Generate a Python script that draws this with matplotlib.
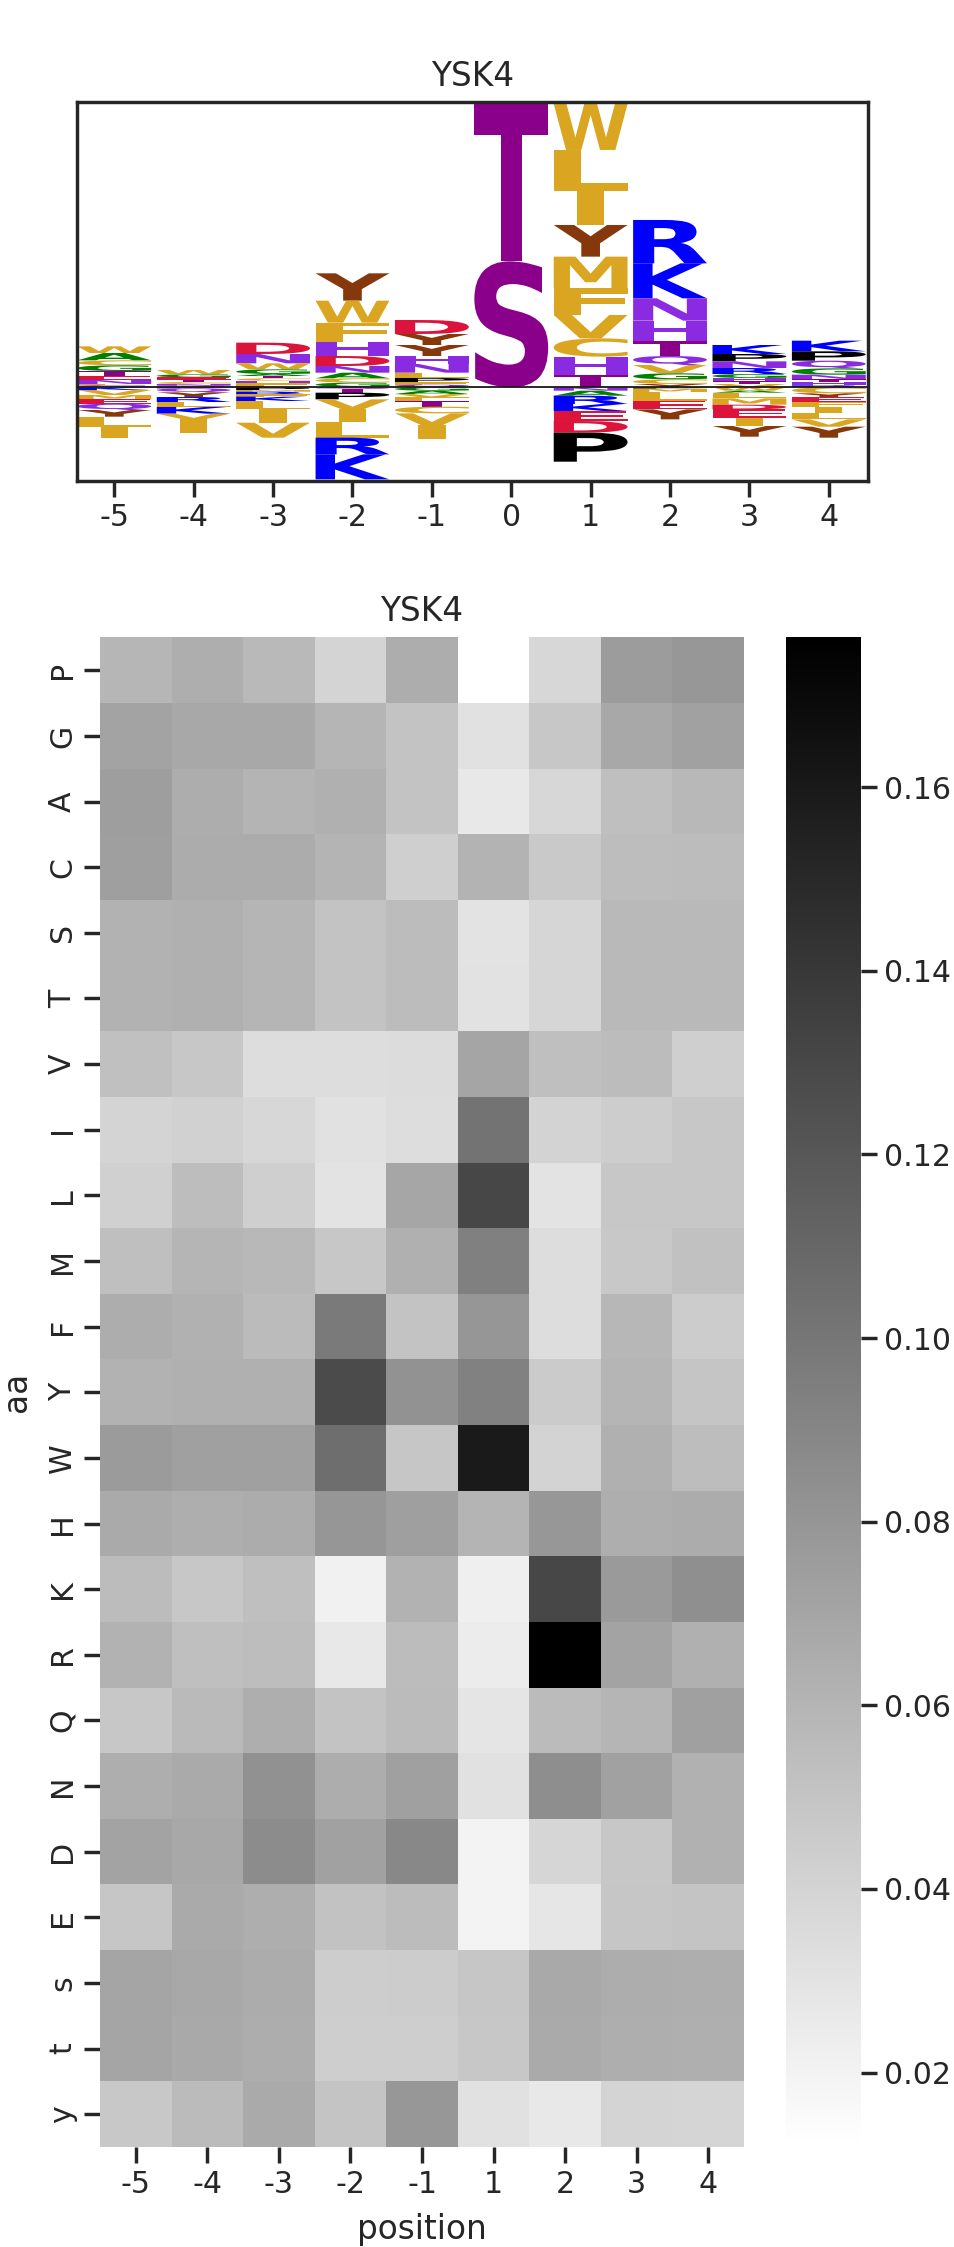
import numpy as np
import pandas as pd
import seaborn as sns
import matplotlib
matplotlib.use('Agg')
import matplotlib.pyplot as plt
from matplotlib.font_manager import FontProperties
from matplotlib.patches import PathPatch
from matplotlib.textpath import TextPath
from matplotlib.transforms import Affine2D

# logo stacks, top to bottom, negative heights sit below the baseline
logo_positions = [-5, -4, -3, -2, -1, 0, 1, 2, 3, 4]
letters_m5 = "WACGTENFSKVMEQYLI"
heights_m5 = [.020, .022, .015, .017, .015, .012, .012, .004, .006, -.008, -.015, -.013, -.013, -.019, -.020, -.030, -.033]
letters_m4 = "WGETCNSPQYRLKVI"
heights_m4 = [.013, .009, .008, .006, .006, .005, .005, -.003, -.012, -.014, -.015, -.015, -.020, -.017, -.040]
letters_m3 = "DNWGATCHFEPMRFKLIV"
heights_m3 = [.034, .028, .018, .014, .006, .007, .007, .008, .008, .004, -.008, -.005, -.008, -.007, -.013, -.025, -.040, -.045]
letters_m2 = "YWFHDNACGESTPVILRK"
heights_m2 = [.082, .066, .057, .043, .030, .020, .017, .013, .012, .002, -.004, -.012, -.020, -.030, -.037, -.048, -.050, -.075]
letters_m1 = "DYYHNLPFQGAVFTCVI"
heights_m1 = [.042, .033, .033, .024, .026, .016, .012, .008, .008, -.010, -.010, -.010, -.010, -.018, -.020, -.035, -.043]
letters_0 = "TS"
heights_0 = [.472, .378]
letters_p1 = "WLIYMFVCHTNARKEDP"
heights_p1 = [.138, .123, .102, .095, .095, .080, .070, .055, .055, .037, -.010, -.015, -.025, -.021, -.030, -.035, -.087]
letters_p2 = "RKNHTQVGCYPMLEY"
heights_p2 = [.130, .105, .067, .061, .045, .027, .025, .018, .014, .010, -.004, -.010, -.026, -.026, -.030]
letters_p3 = "KPNRGHTVWALMDEIY"
heights_p3 = [.027, .022, .020, .018, .012, .010, .008, .010, -.010, -.006, -.017, -.019, -.014, -.026, -.024, -.032]
letters_p4 = "KPQGNTHRCYEFILVY"
heights_p4 = [.032, .028, .023, .019, .013, .010, .009, .006, -.018, -.011, -.015, -.014, -.020, -.018, -.022, -.033]

letter_colors = {
    'S': '#8b008b', 'T': '#8b008b',
    'W': '#daa520', 'L': '#daa520', 'I': '#daa520', 'M': '#daa520',
    'F': '#daa520', 'V': '#daa520', 'C': '#daa520',
    'A': '#008000', 'G': '#008000',
    'Y': '#85380c', 'P': '#000000',
    'R': '#0000ff', 'K': '#0000ff',
    'H': '#8a2be2', 'N': '#8a2be2', 'Q': '#8a2be2',
    'D': '#dc143c', 'E': '#dc143c',
}

# heatmap values
aa_labels = list("PGACSTVILMFYWHKRQNDEsty")
pos_labels = [-5, -4, -3, -2, -1, 1, 2, 3, 4]
row_P = [.0589, .0641, .0570, .0396, .0647, .0119, .0376, .0757, .0789]
row_G = [.0712, .0679, .0679, .0596, .0505, .0312, .0479, .0679, .0725]
row_A = [.0744, .0647, .0602, .0628, .0505, .0267, .0376, .0531, .0576]
row_C = [.0737, .0654, .0654, .0602, .0428, .0608, .0467, .0544, .0550]
row_S = [.0615, .0628, .0596, .0505, .0550, .0305, .0383, .0570, .0570]
row_T = [.0617, .0630, .0598, .0507, .0552, .0307, .0385, .0572, .0572]
row_V = [.0525, .0479, .0338, .0338, .0350, .0699, .0531, .0550, .0428]
row_I = [.0396, .0415, .0376, .0318, .0338, .1021, .0402, .0441, .0479]
row_L = [.0421, .0544, .0428, .0299, .0692, .1305, .0299, .0479, .0479]
row_M = [.0531, .0596, .0576, .0479, .0628, .0937, .0338, .0473, .0518]
row_F = [.0647, .0621, .0557, .0976, .0505, .0796, .0338, .0583, .0447]
row_Y = [.0615, .0628, .0628, .1279, .0821, .0931, .0454, .0596, .0492]
row_W = [.0763, .0731, .0731, .1053, .0486, .1595, .0402, .0628, .0544]
row_H = [.0667, .0641, .0654, .0796, .0737, .0602, .0789, .0641, .0654]
row_K = [.0550, .0479, .0531, .0209, .0615, .0228, .1305, .0770, .0841]
row_R = [.0615, .0531, .0544, .0273, .0550, .0247, .1763, .0712, .0628]
row_Q = [.0479, .0563, .0641, .0505, .0557, .0286, .0557, .0596, .0731]
row_N = [.0641, .0667, .0828, .0647, .0731, .0312, .0847, .0725, .0621]
row_D = [.0712, .0679, .0860, .0725, .0886, .0202, .0383, .0479, .0621]
row_E = [.0486, .0667, .0641, .0512, .0550, .0202, .0280, .0486, .0499]
row_ps = [.0699, .0679, .0654, .0441, .0447, .0486, .0673, .0647, .0641]
row_pt = [.0697, .0677, .0652, .0434, .0440, .0480, .0670, .0645, .0638]
row_py = [.0473, .0557, .0667, .0499, .0789, .0312, .0267, .0396, .0389]

sns.set_theme(context='talk', style='ticks')
plt.rcParams['axes.unicode_minus'] = False

DPI = 131
W, H = 954, 2247


def px_axes(fig, x0, y0, x1, y1):
    return fig.add_axes([x0 / W, 1 - y1 / H, (x1 - x0) / W, (y1 - y0) / H])


def draw_letter(ax, c, x, y, w, h, prop):
    tp = TextPath((0, 0), c, size=1, prop=prop)
    bb = tp.get_extents()
    if c == 'I':
        w = w * 0.37  # keep the I narrow, it is not stretched to full width
    tr = (Affine2D().translate(-bb.x0, -bb.y0)
          .scale(w / bb.width, h / bb.height)
          .translate(x - w / 2, y))
    ax.add_patch(PathPatch(tp.transformed(tr), fc=letter_colors[c], ec='none', lw=0))


def draw_stack(ax, pos, letters, heights, prop, width=0.93):
    heights = np.array(heights)
    y = heights[heights > 0].sum()
    for c, h in zip(letters, heights):
        if h > 0:
            y -= h
            draw_letter(ax, c, pos, y, width, h, prop)
    y = 0
    for c, h in zip(letters, heights):
        if h < 0:
            y += h
            draw_letter(ax, c, pos, y, width, -h, prop)


fig = plt.figure(figsize=((W + .01) / DPI, (H + .01) / DPI), dpi=DPI)

# logo
ax_logo = px_axes(fig, 77, 102.3, 867.7, 480.7)
bold = FontProperties(family='DejaVu Sans', weight='bold')
all_letters = [letters_m5, letters_m4, letters_m3, letters_m2, letters_m1,
               letters_0, letters_p1, letters_p2, letters_p3, letters_p4]
all_heights = [heights_m5, heights_m4, heights_m3, heights_m2, heights_m1,
               heights_0, heights_p1, heights_p2, heights_p3, heights_p4]
for p, ls, hs in zip(logo_positions, all_letters, all_heights):
    draw_stack(ax_logo, p, ls, hs, bold)
ax_logo.axhline(0, color='k', lw=1, zorder=5)
ax_logo.set_xlim(-5.47, 4.49)
ax_logo.set_ylim(-.280, .855)
ax_logo.set_xticks(logo_positions)
ax_logo.set_yticks([])
ax_logo.set_title('YSK4', pad=9)

# heatmap
values = np.array([row_P, row_G, row_A, row_C, row_S, row_T, row_V, row_I, row_L,
                   row_M, row_F, row_Y, row_W, row_H, row_K, row_R, row_Q, row_N,
                   row_D, row_E, row_ps, row_pt, row_py])
df = pd.DataFrame(values, index=pd.Index(aa_labels, name='aa'),
                  columns=pd.Index(pos_labels, name='position'))
ax_heat = px_axes(fig, 100, 637.5, 744, 2147)
ax_cbar = px_axes(fig, 786, 637.5, 861, 2147)
sns.heatmap(df, cmap='gray_r', ax=ax_heat, cbar_ax=ax_cbar)
ax_heat.set_title('YSK4', pad=9)
ax_heat.set_ylabel('aa', labelpad=8.5)
ax_heat.set_xlabel('position', labelpad=8)

fig.savefig('out.png', dpi=DPI)
